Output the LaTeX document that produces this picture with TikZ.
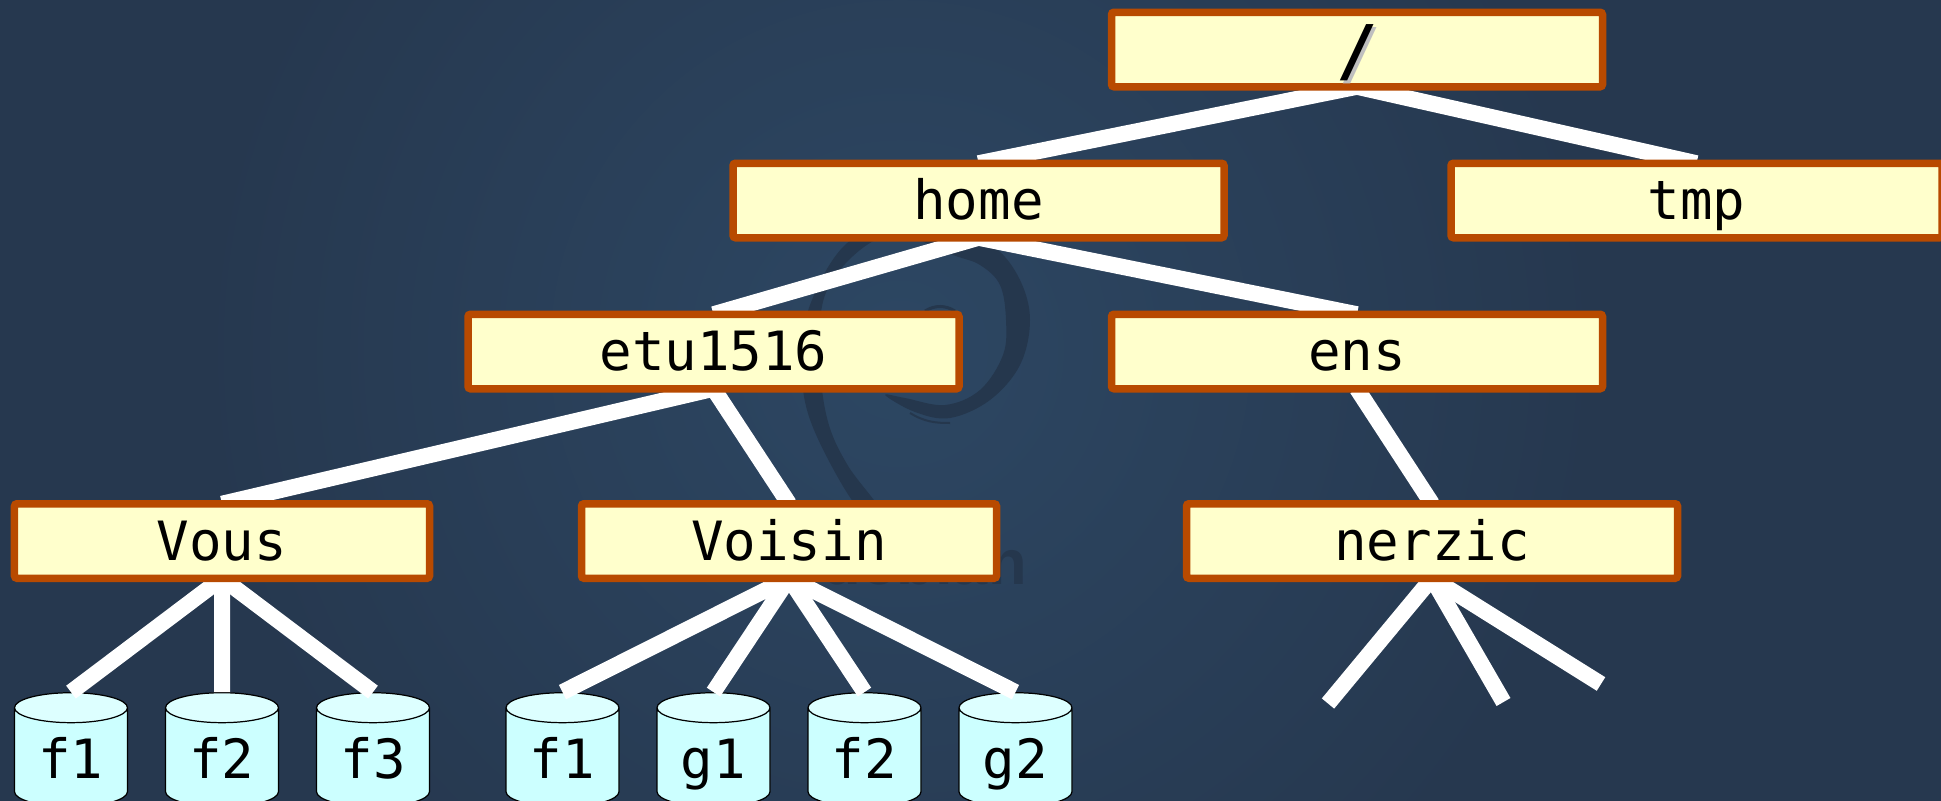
\documentclass[tikz,border=0pt]{standalone}
\usepackage{xcolor}
\usepackage{fontspec}
\usepackage{tikz}
\usetikzlibrary{shapes.geometric}
\newfontfamily\treefont{DejaVu Sans Mono}
\newfontfamily\logofont{Liberation Sans}
\definecolor{bgedge}{HTML}{26384F}
\definecolor{bgcentre}{HTML}{2D4763}
\definecolor{swirl}{HTML}{25374D}
\definecolor{dirborder}{HTML}{B84A00}
\definecolor{dirfill}{HTML}{FFFFCC}
\definecolor{filebody}{HTML}{CCFFFF}
\definecolor{filetop}{HTML}{DDFFFF}
\pgfdeclarelayer{bg}
\pgfdeclarelayer{leaves}
\pgfdeclarelayer{edges}
\pgfsetlayers{bg,leaves,edges,main}
\tikzstyle{dirbox} = [rectangle, rounded corners=0.05cm, minimum width=9.82cm, minimum height=1.49cm, text height=0.76cm, text depth=0cm,
                      text centered, draw=dirborder, fill=dirfill, line width=0.15cm, text=black, outer sep=0pt]
\tikzstyle{userbox} = [dirbox, minimum width=8.3cm]
\tikzstyle{filebox} = [cylinder, shape border rotate=90, shape aspect=0.46, minimum width=2.26cm, minimum height=2.28cm,
                       text height=0.82cm, text depth=0cm, draw=black, line width=0.7pt, cylinder uses custom fill,
                       cylinder body fill=filebody, cylinder end fill=filetop, text=black, inner sep=0pt]
\tikzstyle{link} = [line width=0.32cm, draw=white]

\begin{document}
\begin{tikzpicture}[node distance=3.02cm, every node/.style={font=\treefont\fontsize{30.8}{33}\selectfont}]

\useasboundingbox (0,0) rectangle (38.82,-16.02);

% directories
\node (root) [dirbox] at (27.14,-0.99) {\fontsize{39}{40}\selectfont\raisebox{-0.11cm}{\rlap{\hspace{0.06cm}\raisebox{-0.06cm}{\textcolor{black!25}{\bfseries /}}}{\bfseries /}}};
\node (home) [dirbox, below of=root, xshift=-7.57cm] {home};
\node (tmp) [dirbox, below of=root, xshift=6.79cm] {tmp};
\node (etu) [dirbox, below of=home, xshift=-5.3cm] {etu1516};
\node (ens) [dirbox, below of=home, xshift=7.57cm] {ens};
\node (vous) [userbox, below of=etu, node distance=3.79cm, xshift=-9.83cm] {Vous};
\node (voisin) [userbox, below of=etu, node distance=3.79cm, xshift=1.51cm] {Voisin};
\node (nerzic) [dirbox, below of=ens, node distance=3.79cm, xshift=1.5cm] {nerzic};

% free ends
\coordinate [below of=nerzic, node distance=3.25cm, xshift=-2.08cm] (nerzicA);
\coordinate [below of=nerzic, node distance=3.22cm, xshift=1.43cm] (nerzicB);
\coordinate [below of=nerzic, node distance=2.86cm, xshift=3.38cm] (nerzicC);

% files
\begin{pgfonlayer}{leaves}
\node (voF1) [filebox, below of=vous, node distance=4.33cm, xshift=-3.02cm] {f1};
\node (voF2) [filebox, below of=vous, node distance=4.33cm] {f2};
\node (voF3) [filebox, below of=vous, node distance=4.33cm, xshift=3.02cm] {f3};
\node (viF1) [filebox, below of=voisin, node distance=4.33cm, xshift=-4.53cm] {f1};
\node (viG1) [filebox, below of=voisin, node distance=4.33cm, xshift=-1.51cm] {g1};
\node (viF2) [filebox, below of=voisin, node distance=4.33cm, xshift=1.51cm] {f2};
\node (viG2) [filebox, below of=voisin, node distance=4.33cm, xshift=4.53cm] {g2};
\end{pgfonlayer}

\begin{pgfonlayer}{edges}
\draw [link] (root.south) -- (home.north);
\draw [link] (root.south) -- (tmp.north);
\draw [link] (home.south) -- (etu.north);
\draw [link] (home.south) -- (ens.north);
\draw [link] (etu.south) -- (vous.north);
\draw [link] (etu.south) -- (voisin.north);
\draw [link] (ens.south) -- (nerzic.north);
\draw [link] (vous.south) -- (voF1.north);
\draw [link] (vous.south) -- (voF2.north);
\draw [link] (vous.south) -- (voF3.north);
\draw [link] (voisin.south) -- (viF1.north);
\draw [link] (voisin.south) -- (viG1.north);
\draw [link] (voisin.south) -- (viF2.north);
\draw [link] (voisin.south) -- (viG2.north);
\draw [link] (nerzic.south) -- (nerzicA);
\draw [link] (nerzic.south) -- (nerzicB);
\draw [link] (nerzic.south) -- (nerzicC);
\end{pgfonlayer}

% background and logo
\begin{pgfonlayer}{bg}
\fill [bgedge] (0,0) rectangle (38.82,-16.02);
\shade [inner color=bgcentre, outer color=bgedge] (18,-7) circle (14);
\fill [swirl] plot [smooth, tension=0.6] coordinates {(19.1,-4.6) (19.9,-4.95) (20.4,-5.6) (20.6,-6.4) (20.4,-7.3) (19.8,-8) (19,-8.36) (18.3,-8.24) (17.7,-7.9)
  (18.1,-7.96) (18.9,-8.1) (19.6,-7.8) (20.06,-7.1) (20.12,-6.4) (20,-5.7) (19.6,-5.3) (19.06,-5.1) (18,-4.7) (17.2,-5) (16.5,-5.9) (16.4,-7.2)
  (16.55,-8.4) (16.95,-9.3) (17.6,-10.2) (17.2,-10.2) (16.6,-9.26) (16.14,-8.2) (16.04,-7.2) (16.2,-6.1) (16.9,-4.9) (18,-4.4) (19.1,-4.6)};
\draw [swirl, line width=0.06cm] (18.5,-6.22) .. controls (18.7,-6.1) and (18.9,-6.1) .. (19.1,-6.22);
\draw [swirl, line width=0.04cm] (18.2,-8.26) .. controls (18.5,-8.44) and (18.7,-8.46) .. (19,-8.46);
\node (logo) [font=\logofont\fontsize{36}{38}\selectfont\bfseries, text=swirl, anchor=base east, inner sep=0pt] at (20.54,-11.68) {debian};
\end{pgfonlayer}

\end{tikzpicture}
\end{document}
